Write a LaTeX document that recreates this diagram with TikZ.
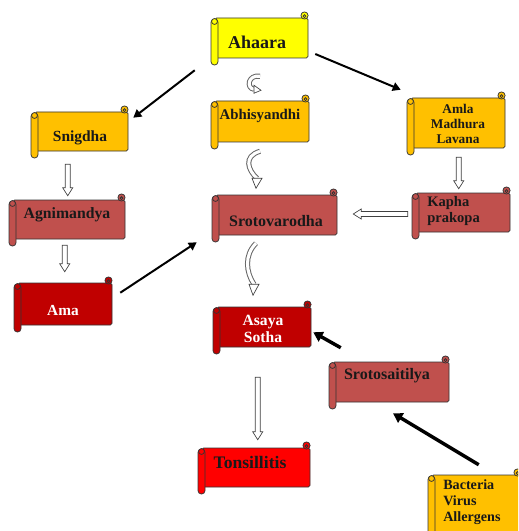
\documentclass[tikz,border=0pt]{standalone}
\usepackage{fontspec}
\setmainfont{Liberation Serif}
\usetikzlibrary{arrows.meta,calc,fit}
\definecolor{cyel}{HTML}{FFFF00}
\definecolor{cgold}{HTML}{FFC000}
\definecolor{crose}{HTML}{C0504D}
\definecolor{cdred}{HTML}{C00000}
\definecolor{cred}{HTML}{FF0000}
\tikzset{
  scrollline/.style={draw=black!80, line width=0.55pt},
  lbl/.style={font=\bfseries, inner sep=0pt, text=black!90},
  thinarr/.style={line width=1.5pt, -{Triangle[length=6pt,width=6.5pt]}},
  thickarr/.style={line width=2.6pt, -{Triangle[length=7pt,width=8pt]}},
  hollow/.style={draw=black!75, line width=0.5pt, fill=white},
  curlout/.style={draw=black!60, line width=3.8pt},
  curlin/.style={draw=white, line width=2.3pt},
}
\newcommand\scrollbox[6]{%
  \draw[scrollline, fill=#6, rounded corners=1.2pt] ({#2+4},#3) rectangle (#4,#5);
  \draw[scrollline, fill=#6] ({#4-3.5},{#3-2.5}) circle[radius=2.7pt];
  \draw[scrollline, fill=#6] ({#4-3.5},{#3-1.8}) circle[radius=1.1pt];
  \draw[scrollline, fill=#6, rounded corners=2.5pt] (#2,{#3+1}) rectangle ({#2+7},{#5+7});
  \draw[scrollline, fill=#6] ({#2+3.5},{#3+3.5}) circle[radius=2.2pt];
  \node[fit={(#2,#3) (#4,#5)}, inner sep=0pt] (#1) {};
}
\newcommand\hollowarrow[2]{%
  \coordinate (ha-a) at (#1);
  \coordinate (ha-b) at (#2);
  \coordinate (ha-h) at ($(ha-b)!6pt!(ha-a)$);
  \draw[hollow] ($(ha-a)!1.9pt!90:(ha-b)$) -- ($(ha-h)!1.9pt!90:(ha-b)$)
    -- ($(ha-h)!3.8pt!90:(ha-b)$) -- (ha-b) -- ($(ha-h)!3.8pt!-90:(ha-b)$)
    -- ($(ha-h)!1.9pt!-90:(ha-b)$) -- ($(ha-a)!1.9pt!-90:(ha-b)$) -- cycle;
}
\begin{document}
\begin{tikzpicture}[x=0.75pt, y=-0.75pt]
\useasboundingbox (0,0) rectangle (518,531);
\clip (0,0) rectangle (518,531);
\fill[white] (0,0) rectangle (518,531);

% scroll boxes
\scrollbox{ahaara}{211}{18}{308}{58}{cyel}
\scrollbox{abhi}{211}{101}{309}{142}{cgold}
\scrollbox{snig}{31}{112}{128}{151}{cgold}
\scrollbox{agni}{9}{200}{125}{239}{crose}
\scrollbox{ama}{14}{283}{112}{325}{cdred}
\scrollbox{amla}{407}{98}{505}{148}{cgold}
\scrollbox{kapha}{412}{193}{510}{232}{crose}
\scrollbox{sroto}{212}{195}{337}{235}{crose}
\scrollbox{asaya}{213}{307}{311}{347}{cdred}
\scrollbox{srsait}{329}{362}{449}{402}{crose}
\scrollbox{tons}{198}{448}{310}{487}{cred}
\scrollbox{bact}{428}{475}{521}{545}{cgold}

% labels
\node[lbl, anchor=base, font=\bfseries\fontsize{13.5}{16}\selectfont] (ahaara-t) at (257,49) {Ahaara};
\node[lbl, anchor=base, font=\bfseries\fontsize{11.1}{13}\selectfont] (abhi-t) at (260,120) {Abhisyandhi};
\node[lbl, anchor=base, font=\bfseries\fontsize{11.6}{13}\selectfont] (snig-t) at (80,142) {Snigdha};
\node[lbl, anchor=base, font=\bfseries\fontsize{11.8}{13}\selectfont] (agni-t) at (67,218) {Agnimandya};
\node[lbl, anchor=base, text=white, font=\bfseries\fontsize{11.5}{13}\selectfont] (ama-t) at (63,315) {Ama};
\node[lbl, align=center, font=\bfseries\fontsize{10}{11.3}\selectfont] (amla-t) at (458,124) {Amla\\Madhura\\Lavana};
\node[lbl, align=left, anchor=west, font=\bfseries\fontsize{10.9}{11.5}\selectfont] (kapha-t) at (427,211) {Kapha\\prakopa};
\node[lbl, anchor=base, font=\bfseries\fontsize{12}{14}\selectfont] (sroto-t) at (276,226) {Srotovarodha};
\node[lbl, align=center, text=white, font=\bfseries\fontsize{11.7}{12.8}\selectfont] (asaya-t) at (263,329) {Asaya\\Sotha};
\node[lbl, anchor=base, font=\bfseries\fontsize{12}{14}\selectfont] (srsait-t) at (387,379) {Srotosaitilya};
\node[lbl, anchor=base, font=\bfseries\fontsize{13.2}{15}\selectfont] (tons-t) at (250,468) {Tonsillitis};
\node[lbl, align=left, anchor=west, font=\bfseries\fontsize{10.6}{12.2}\selectfont] (bact-t) at (443,502) {Bacteria\\Virus\\Allergens};

% black arrows
\draw[thinarr] ($(ahaara.south west)+(-16,12)$) -- ($(snig.north east)+(5,6)$);
\draw[thinarr] ($(ahaara.east)+(7,16)$) -- ($(amla.north west)+(-6,-8)$);
\draw[thinarr] ($(ama.north east)+(8,10)$) -- ($(sroto.south west)+(-15,7)$);
\draw[thickarr] ($(srsait.north west)+(12,-14)$) -- ($(asaya.south east)+(2,-15)$);
\draw[thickarr] ($(bact.north west)+(51,-10)$) -- ($(srsait.south)+(4,11)$);

% hollow block arrows
\hollowarrow{$(snig.south west)+(37,13)$}{$(agni.north west)+(59,-4)$}
\hollowarrow{$(agni.south west)+(56,6)$}{$(ama.north west)+(51,-11)$}
\hollowarrow{$(amla.south west)+(52,9)$}{$(kapha.north west)+(47,-4)$}
\hollowarrow{$(kapha.west)+(-4,1.5)$}{$(sroto.east)+(16,-1)$}
\hollowarrow{$(asaya.south west)+(45,30)$}{$(tons.north west)+(60,-8)$}

% curved arrows
\begin{scope}[shift={(ahaara.south)}]
  \draw[curlout] (0.5,18) .. controls (-11.5,16) and (-13.5,30) .. (-5.5,31);
  \draw[curlin] (0.5,18) .. controls (-11.5,16) and (-13.5,30) .. (-5.5,31);
  \draw[hollow] (-5.5,27) -- (1.5,32) -- (-5.5,35) -- cycle;
\end{scope}
\begin{scope}[shift={(abhi.south)}]
  \draw[curlout] (0,9) .. controls (-17,14) and (-12,28) .. (-3,36);
  \draw[curlin] (0,9) .. controls (-17,14) and (-12,28) .. (-3,36);
  \draw[hollow] (-8,36) -- (-4,46) -- (2,36) -- cycle;
\end{scope}
\begin{scope}[shift={(sroto.south)}]
  \draw[curlout] (-18.5,8) .. controls (-30.5,20) and (-28.5,37) .. (-20.5,49);
  \draw[curlin] (-18.5,8) .. controls (-30.5,20) and (-28.5,37) .. (-20.5,49);
  \draw[hollow] (-25.5,49) -- (-21.5,60) -- (-15.5,49) -- cycle;
\end{scope}
\end{tikzpicture}
\end{document}
